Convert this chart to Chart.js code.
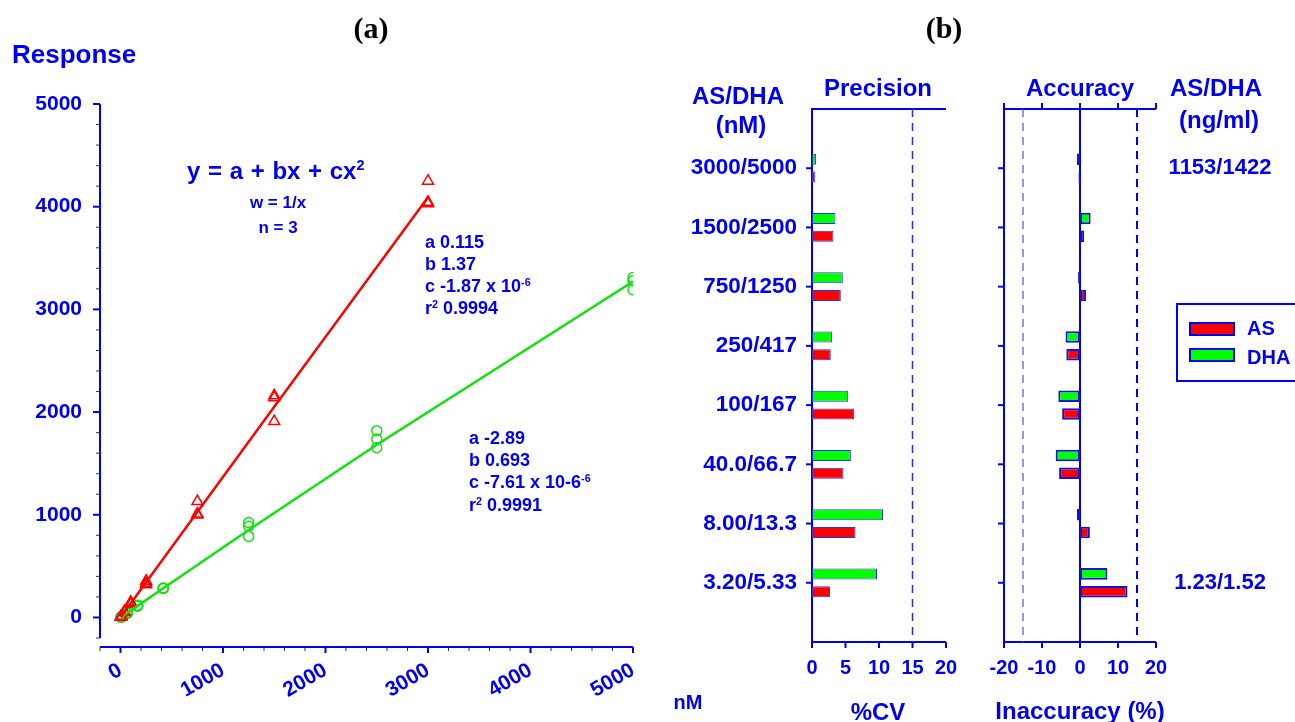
<!DOCTYPE html>
<html>
<head>
<meta charset="utf-8">
<script src="https://cdn.jsdelivr.net/npm/chart.js@4.4.0/dist/chart.umd.min.js"></script>
<style>
  html, body { margin: 0; padding: 0; background: #fff; }
  body { position: relative; width: 1295px; height: 722px; overflow: hidden; }
  canvas { position: absolute; top: 0; }
  .t { position: absolute; color: #0000f0; font-family: "Liberation Sans", Arial, sans-serif; font-weight: bold; white-space: nowrap; line-height: 1; }
  .c { transform: translate(-50%, -50%); }
  .l { transform: translateY(-50%); }
  .t sup { font-size: 0.6em; vertical-align: 0.6em; line-height: 0; }
  .panel { font-family: "Liberation Serif", "Times New Roman", serif; color: #000; font-size: 30px; }
  .legend { position: absolute; left: 1176px; top: 303px; width: 140px; height: 75px; border: 2px solid #0000f0; }
  .sw { position: absolute; left: 11px; width: 42px; height: 10px; border: 2px solid #0000f0; }
</style>
</head>
<body>
<canvas id="calib" width="650" height="722" style="left:0"></canvas>
<canvas id="precision" width="330" height="722" style="left:650px"></canvas>
<canvas id="accuracy" width="315" height="722" style="left:980px"></canvas>

<!-- panel (a) text -->
<div class="t c panel" style="left:371px; top:28px;">(a)</div>
<div class="t l" style="left:12px; top:54px; font-size:26px;">Response</div>
<div class="t l" style="left:187px; top:171px; font-size:24px; word-spacing:1px;">y = a + bx + cx<sup>2</sup></div>
<div class="t c" style="left:278px; top:202px; font-size:17px;">w = 1/x</div>
<div class="t c" style="left:278px; top:227px; font-size:17px;">n = 3</div>
<div class="t l" style="left:425px; top:242px; font-size:18px;">a 0.115</div>
<div class="t l" style="left:425px; top:264px; font-size:18px;">b 1.37</div>
<div class="t l" style="left:425px; top:286px; font-size:18px;">c -1.87 x 10<sup>-6</sup></div>
<div class="t l" style="left:425px; top:308px; font-size:18px;">r<sup>2</sup> 0.9994</div>
<div class="t l" style="left:469px; top:438px; font-size:18px;">a -2.89</div>
<div class="t l" style="left:469px; top:460px; font-size:18px;">b 0.693</div>
<div class="t l" style="left:469px; top:482px; font-size:18px;">c -7.61 x 10-6<sup>-6</sup></div>
<div class="t l" style="left:469px; top:505px; font-size:18px;">r<sup>2</sup> 0.9991</div>
<div class="t c" style="left:688px; top:702px; font-size:20px;">nM</div>

<!-- panel (b) text -->
<div class="t c panel" style="left:944px; top:28px;">(b)</div>
<div class="t c" style="left:738px; top:96px; font-size:24px;">AS/DHA</div>
<div class="t c" style="left:741px; top:125px; font-size:24px;">(nM)</div>
<div class="t c" style="left:878px; top:88px; font-size:24px;">Precision</div>
<div class="t c" style="left:1080px; top:88px; font-size:24px;">Accuracy</div>
<div class="t c" style="left:1216px; top:88px; font-size:24px;">AS/DHA</div>
<div class="t c" style="left:1219px; top:120px; font-size:24px;">(ng/ml)</div>
<div class="t c" style="left:878px; top:712px; font-size:24px;">%CV</div>
<div class="t c" style="left:1080px; top:711px; font-size:24px;">Inaccuracy (%)</div>

<div class="legend">
  <div class="sw" style="top:17px; background:#ff0000;"></div>
  <div class="sw" style="top:43px; background:#00ff00;"></div>
  <div class="t l" style="left:69px; top:23px; font-size:20px;">AS</div>
  <div class="t l" style="left:69px; top:52px; font-size:20px;">DHA</div>
</div>

<script>
const BLUE = "#0000f0";
const FONT = "'Liberation Sans', Arial, sans-serif";

// --- (a) calibration data ---
const asConc = [3.2, 8, 40, 100, 250, 750, 1500, 3000];
const asResp = [
  [4, 5, 3], [11, 12, 10], [55, 60, 50], [150, 135, 130],
  [355, 335, 320], [1130, 1010, 1000], [2160, 2140, 1910], [4250, 4045, 4030],
];
const asFit = [4, 11, 55, 137, 343, 1027, 2051, 4093];

const dhaConc = [5.33, 13.3, 66.7, 167, 417, 1250, 2500, 5000];
const dhaResp = [
  [3, 4, 2], [9, 10, 8], [48, 44, 40], [120, 115, 110],
  [287, 285, 282], [925, 887, 789], [1819, 1738, 1653], [3310, 3280, 3190],
];
const dhaFit = [1, 6, 43, 113, 285, 852, 1682, 3272];

const concTicks = [0, 1000, 2000, 3000, 4000, 5000];
const respTicks = [0, 1000, 2000, 3000, 4000, 5000];
const axisMin = -200;
const axisMax = 5000;
const minorStep = 200;

// --- (b) precision / accuracy data ---
const doses = ["3000/5000", "1500/2500", "750/1250", "250/417", "100/167", "40.0/66.7", "8.00/13.3", "3.20/5.33"];
const ngLabels = ["1153/1422", "", "", "", "", "", "", "1.23/1.52"];
const dhaCv = [0.6, 3.5, 4.6, 3.0, 5.4, 5.8, 10.6, 9.7];
const asCv = [0.5, 3.2, 4.3, 2.8, 6.3, 4.7, 6.5, 2.7];
const dhaAcc = [-0.8, 2.8, -0.5, -3.8, -5.7, -6.4, -0.8, 7.2];
const asAcc = [-0.4, 1.1, 1.6, -3.6, -4.7, -5.5, 2.6, 12.5];
const cvTicks = [0, 5, 10, 15, 20];
const accTicks = [-20, -10, 0, 10, 20];
const limit = 15;

// --- Helpers ---
function zeroPad(s) {
  s.paddingLeft = 0; s.paddingRight = 0; s.paddingTop = 0; s.paddingBottom = 0;
}
function seg(ctx, x1, y1, x2, y2) {
  ctx.beginPath(); ctx.moveTo(x1, y1); ctx.lineTo(x2, y2); ctx.stroke();
}
function setTicks(values) {
  return (s) => { s.ticks = values.map((v) => ({ value: v })); };
}
const tickFont = (size) => ({ family: FONT, size, weight: "bold" });

Chart.defaults.animation = false;
Chart.defaults.plugins.legend.display = false;
Chart.defaults.plugins.tooltip.enabled = false;

// --- (a) calibration curves ---
const axesA = {
  id: "axesA",
  beforeDatasetsDraw(chart) {
    const { ctx, chartArea: a, scales: { x, y } } = chart;
    const xLineY = a.bottom + 9;
    ctx.save();
    ctx.strokeStyle = BLUE;
    ctx.lineWidth = 2;
    seg(ctx, a.left, y.getPixelForValue(axisMax), a.left, y.getPixelForValue(axisMin));
    seg(ctx, a.left, xLineY, x.getPixelForValue(axisMax), xLineY);
    for (let v = axisMin; v <= axisMax; v += minorStep) {
      const major = respTicks.includes(v);
      ctx.strokeStyle = major ? BLUE : "#333";
      ctx.lineWidth = major ? 2 : 1;
      const py = y.getPixelForValue(v);
      seg(ctx, a.left - (major ? 7 : 4), py, a.left, py);
      const px = x.getPixelForValue(v);
      seg(ctx, px, xLineY, px, xLineY + (major ? 6 : 4));
    }
    ctx.restore();
  },
};

const pts = (conc, resp) => conc.flatMap((c, i) => resp[i].map((v) => ({ x: c, y: v })));
const fitPts = (conc, fit) => conc.map((c, i) => ({ x: c, y: fit[i] }));

new Chart(document.getElementById("calib"), {
  type: "scatter",
  data: {
    datasets: [
      { data: fitPts(asConc, asFit), showLine: true, pointRadius: 0, borderColor: "#ff0000", borderWidth: 2.5 },
      { data: fitPts(dhaConc, dhaFit), showLine: true, pointRadius: 0, borderColor: "#12e012", borderWidth: 2.5 },
      { data: pts(asConc, asResp), pointStyle: "triangle", pointRadius: 6.3, borderWidth: 1.5,
        borderColor: "#ff0000", backgroundColor: "rgba(0,0,0,0)" },
      { data: pts(dhaConc, dhaResp), pointStyle: "circle", pointRadius: 5, borderWidth: 1.5,
        borderColor: "#12e012", backgroundColor: "rgba(0,0,0,0)" },
    ],
  },
  options: {
    responsive: false,
    layout: { padding: { left: 0, top: 104, right: 17, bottom: 0 } },
    scales: {
      x: {
        type: "linear", min: axisMin, max: axisMax,
        afterBuildTicks: setTicks(concTicks),
        afterFit: (s) => { s.height = 84; zeroPad(s); },
        grid: { display: false, drawTicks: false },
        border: { display: false },
        ticks: { minRotation: 30, maxRotation: 30, autoSkip: false, padding: 20, color: BLUE,
          font: tickFont(21), callback: (v) => String(v) },
      },
      y: {
        type: "linear", min: axisMin, max: axisMax,
        afterBuildTicks: setTicks(respTicks),
        afterFit: (s) => { s.width = 100; zeroPad(s); },
        grid: { display: false, drawTicks: false },
        border: { display: false },
        ticks: { padding: 18, color: BLUE, font: tickFont(21), callback: (v) => String(v) },
      },
    },
  },
  plugins: [axesA],
});

// --- (b) precision and accuracy bars ---
const catLabels = [""].concat(doses, [""]);
const padded = (arr) => [null].concat(arr, [null]);

function frame(ctx, a, x, y, xTicks, topTicks) {
  ctx.strokeStyle = BLUE;
  ctx.lineWidth = 2;
  ctx.beginPath();
  ctx.moveTo(a.right, a.top);
  ctx.lineTo(a.left, a.top);
  ctx.lineTo(a.left, a.bottom);
  ctx.lineTo(a.right, a.bottom);
  ctx.stroke();
  xTicks.forEach((v) => {
    const px = x.getPixelForValue(v);
    seg(ctx, px, a.bottom, px, a.bottom + 6);
    if (topTicks) seg(ctx, px, a.top, px, a.top - 6);
  });
  doses.forEach((d, i) => {
    const py = y.getPixelForValue(i + 1);
    seg(ctx, a.left - 6, py, a.left, py);
  });
}

function barOptions(xMin, xMax, xTicks, yWidth, rightPad) {
  return {
    responsive: false,
    indexAxis: "y",
    layout: { padding: { left: 0, top: 109, right: rightPad, bottom: 0 } },
    scales: {
      x: {
        type: "linear", min: xMin, max: xMax,
        afterBuildTicks: setTicks(xTicks),
        afterFit: (s) => { s.height = 80; zeroPad(s); },
        grid: { display: false, drawTicks: false },
        border: { display: false },
        ticks: { padding: 14, color: BLUE, font: tickFont(20), callback: (v) => String(v) },
      },
      y: {
        type: "category", offset: false,
        afterFit: (s) => { s.width = yWidth; zeroPad(s); },
        grid: { display: false, drawTicks: false },
        border: { display: false },
        ticks: { padding: 15, autoSkip: false, color: BLUE, font: tickFont(22.5), display: yWidth > 50 },
      },
    },
  };
}

const precisionAxes = {
  id: "precisionAxes",
  beforeDatasetsDraw(chart) {
    const { ctx, chartArea: a, scales: { x, y } } = chart;
    ctx.save();
    frame(ctx, a, x, y, cvTicks, false);
    ctx.setLineDash([8, 6]);
    ctx.lineWidth = 1.5;
    ctx.strokeStyle = "#2a2af0";
    const px = x.getPixelForValue(limit);
    seg(ctx, px, a.top, px, a.bottom);
    ctx.restore();
  },
};

new Chart(document.getElementById("precision"), {
  type: "bar",
  data: {
    labels: catLabels,
    datasets: [
      { label: "DHA", data: padded(dhaCv), backgroundColor: "#00ff00", borderColor: "#3030f0", borderWidth: 1,
        borderSkipped: false, categoryPercentage: 0.6, barPercentage: 0.62 },
      { label: "AS", data: padded(asCv), backgroundColor: "#ff0000", borderColor: "#3030f0", borderWidth: 1,
        borderSkipped: false, categoryPercentage: 0.6, barPercentage: 0.62 },
    ],
  },
  options: barOptions(0, 20, cvTicks, 162, 34),
  plugins: [precisionAxes],
});

const accuracyAxes = {
  id: "accuracyAxes",
  beforeDatasetsDraw(chart) {
    const { ctx, chartArea: a, scales: { x, y } } = chart;
    ctx.save();
    frame(ctx, a, x, y, accTicks, true);
    const zero = x.getPixelForValue(0);
    seg(ctx, zero, a.top, zero, a.bottom);
    ctx.setLineDash([8, 6]);
    ctx.lineWidth = 1.2;
    ctx.strokeStyle = "#5050f0";
    let px = x.getPixelForValue(-limit);
    seg(ctx, px, a.top, px, a.bottom);
    ctx.lineWidth = 2;
    ctx.strokeStyle = BLUE;
    px = x.getPixelForValue(limit);
    seg(ctx, px, a.top, px, a.bottom);
    ctx.setLineDash([]);
    // ng/ml labels on the right
    ctx.fillStyle = BLUE;
    ctx.font = "bold 22px " + FONT;
    ctx.textAlign = "center";
    ctx.textBaseline = "middle";
    ngLabels.forEach((t, i) => {
      if (t) ctx.fillText(t, 240, y.getPixelForValue(i + 1));
    });
    ctx.restore();
  },
};

new Chart(document.getElementById("accuracy"), {
  type: "bar",
  data: {
    labels: catLabels,
    datasets: [
      { label: "DHA", data: padded(dhaAcc), backgroundColor: "#00ff00", borderColor: "#1010e8", borderWidth: 2,
        borderSkipped: false, categoryPercentage: 0.6, barPercentage: 0.65 },
      { label: "AS", data: padded(asAcc), backgroundColor: "#ff0000", borderColor: "#1010e8", borderWidth: 2,
        borderSkipped: false, categoryPercentage: 0.6, barPercentage: 0.65 },
    ],
  },
  options: barOptions(-20, 20, accTicks, 24, 139),
  plugins: [accuracyAxes],
});
</script>
</body>
</html>
